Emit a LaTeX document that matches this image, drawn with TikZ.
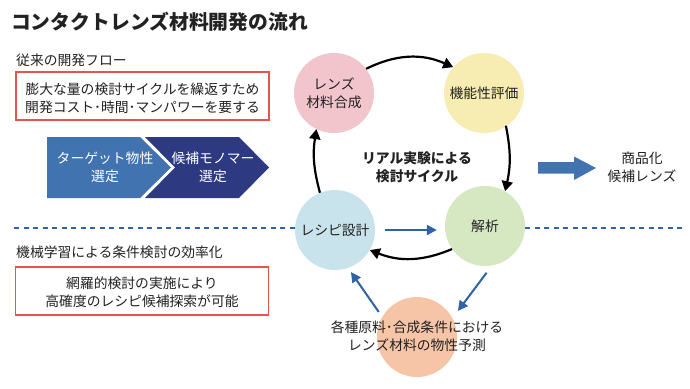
\documentclass[tikz,border=0pt]{standalone}
\usepackage{fontspec}
\setmainfont{Noto Sans CJK JP}
\usetikzlibrary{arrows.meta,calc}
\definecolor{pinkc}{HTML}{F2C4CC}
\definecolor{yellowc}{HTML}{F7EDB2}
\definecolor{bluec}{HTML}{C8E3EC}
\definecolor{greenc}{HTML}{D6E8C2}
\definecolor{orangec}{HTML}{F6C4A6}
\definecolor{redc}{HTML}{E8544C}
\definecolor{linec}{HTML}{2F63A5}
\definecolor{chev1}{HTML}{4273B1}
\definecolor{chev2}{HTML}{2D3980}
\definecolor{txtc}{HTML}{222222}
\tikzset{
  txt/.style={font=\fontsize{13.8}{18}\selectfont, inner sep=0pt, align=center, text=txtc},
  circ/.style={circle, minimum size=80pt, inner sep=0pt, draw=none},
  redbox/.style={draw=redc, line width=1.1pt, minimum width=253pt, minimum height=48pt, inner sep=0pt},
  cyc/.style={line width=2.2pt, black, -{Triangle[length=10pt,width=11pt]}},
  bluearr/.style={line width=2pt, linec, -{Triangle[length=10pt,width=10pt]}},
  dashline/.style={line width=1.8pt, linec, dash pattern=on 5pt off 4.5pt}
}
\begin{document}
\begin{tikzpicture}[x=1pt,y=-1pt]
\useasboundingbox[fill=white] (0,0) rectangle (690,388);

% title
\node[anchor=west, inner sep=0pt, font=\bfseries\fontsize{19.8}{22}\selectfont, text=txtc] (title) at (11,22) {コンタクトレンズ材料開発の流れ};

% left top section
\node[txt, anchor=west] (conv) at (16,60) {従来の開発フロー};
\node[redbox] (box1) at (142.5,96) {};
\node[txt] (box1t) at (142.5,98) {膨大な量の検討サイクルを繰返すため\\開発コスト･時間･マンパワーを要する};

% chevrons
\fill[chev1] (47,137) -- (140,137) -- (171,167.5) -- (140,198) -- (47,198) -- cycle;
\fill[chev2] (145,137) -- (239,137) -- (269,167.5) -- (239,198) -- (145,198) -- (175,167.5) -- cycle;
\node[txt, text=white] (ch1) at (105,167) {ターゲット物性\\選定};
\node[txt, text=white] (ch2) at (213,167) {候補モノマー\\選定};

% bottom-left section
\node[txt, anchor=west] (ml) at (16,252) {機械学習による条件検討の効率化};
\node[redbox] (box2) at (142,291) {};
\node[txt] (box2t) at (142,292) {網羅的検討の実施により\\高確度のレシピ候補探索が可能};

% circles
\node[circ, fill=pinkc] (pink) at (334,93) {};
\node[circ, fill=yellowc] (yellow) at (484,93) {};
\node[circ, fill=bluec] (blue) at (335,230) {};
\node[circ, fill=greenc] (green) at (485,226) {};
\node[circ, fill=orangec] (orange) at (417,337) {};
\node[txt] (pinkt) at (pink) {レンズ\\材料合成};
\node[txt] (yellowt) at (yellow) {機能性評価};
\node[txt] (bluet) at (blue) {レシピ設計};
\node[txt] (greent) at (green) {解析};
\node[txt] (oranget) at (417,336) {各種原料･合成条件における\\レンズ材料の物性予測};
\node[txt, font=\bfseries\fontsize{13.8}{18}\selectfont] (cyct) at (417,167) {リアル実験による\\検討サイクル};

% dashed separator
\coordinate (dl) at (14,228);
\coordinate (dr) at (683,228);
\draw[dashline] (dl) -- (blue.west |- dl);
\draw[dashline] (green.east |- dr) -- (dr);

% black cycle arrows
\draw[cyc] (pink.37) to[bend left=25] (yellow.140);
\draw[cyc] ($(yellow.-57)+(0,-1)$) to[bend left=12] (green.60);
\draw[cyc] (green.-145) to[bend left=22] (blue.-30);
\draw[cyc] (blue.112) to[bend left=12] (pink.-116);

% blue arrows
\draw[bluearr, shorten <=10pt, shorten >=8pt] (blue.east) -- (green.west |- blue.east);
\draw[bluearr, shorten <=9pt, shorten >=9pt] (green.-80) -- (orange.28);
\draw[bluearr, shorten <=6pt, shorten >=5pt] (orange.150) -- (blue.-71);

% big block arrow
\fill[chev1] (538,162) -- (574,162) -- (574,156.5) -- (596,168) -- (574,180) -- (574,173.5) -- (538,173.5) -- cycle;
\node[txt] (prod) at (642,167) {商品化\\候補レンズ};
\end{tikzpicture}
\end{document}
